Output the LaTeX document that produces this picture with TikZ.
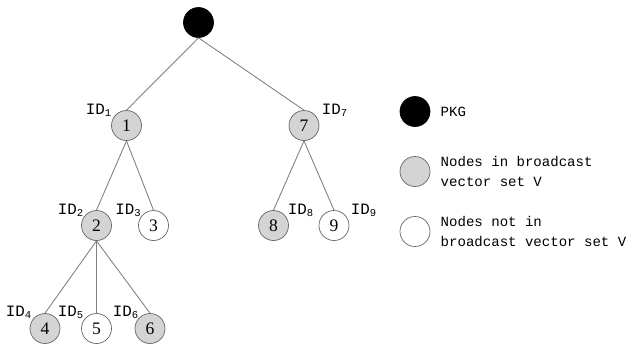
\documentclass[tikz,border=0pt]{standalone}
\usepackage{fontspec}
\setmainfont{Liberation Serif}
\setmonofont{Liberation Mono}
\usepackage{xcolor}
\usetikzlibrary{positioning}

\definecolor{branchgray}{gray}{0.5}
\definecolor{vecgray}{gray}{0.83}

\tikzset{
  treenode/.style={draw=black!60, circle, minimum size=0.6cm, inner sep=0pt, font=\fontsize{10}{10}\selectfont},
  invec/.style={treenode, fill=vecgray},
  outvec/.style={treenode, fill=white},
  pkgnode/.style={treenode, draw=black, fill=black},
  idlabel/.style={inner sep=0pt, font=\ttfamily\fontsize{9}{9}\selectfont},
  legendtext/.style={anchor=west, align=left, inner sep=0pt, font=\ttfamily\fontsize{8}{11.4}\selectfont},
  branch/.style={draw=branchgray, line width=0.5pt}
}

\begin{document}
\begin{tikzpicture}
            \useasboundingbox (0, 0) rectangle (12.58, -7.0);
            % Define the key generator and the tree nodes
            \node[pkgnode] (pkg) at (3.97, -0.45) {};
            \node[invec] (node-1) at (2.53, -2.51) {1};
            \node[invec] (node-7) at (6.08, -2.51) {7};
            \node[invec] (node-2) at (1.93, -4.51) {2};
            \node[outvec] (node-3) at (3.07, -4.51) {3};
            \node[invec] (node-8) at (5.47, -4.51) {8};
            \node[outvec] (node-9) at (6.68, -4.51) {9};
            \node[invec] (node-4) at (0.90, -6.57) {4};
            \node[outvec] (node-5) at (1.93, -6.57) {5};
            \node[invec] (node-6) at (3.00, -6.57) {6};
            % Tree branches
            \draw[branch] (pkg.south) -- (node-1.north);
            \draw[branch] (pkg.south) -- (node-7.north);
            \draw[branch] (node-1.south) -- (node-2.north);
            \draw[branch] (node-1.south) -- (node-3.north);
            \draw[branch] (node-7.south) -- (node-8.north);
            \draw[branch] (node-7.south) -- (node-9.north);
            \foreach \leaf in {4, 5, 6}
                \draw[branch] (node-2.south) -- (node-\leaf.north);
            % Identity labels
            \node[idlabel] (id-1) at (1.98, -2.20) {ID\textsubscript{1}};
            \node[idlabel] (id-7) at (6.70, -2.20) {ID\textsubscript{7}};
            \node[idlabel] (id-2) at (1.42, -4.20) {ID\textsubscript{2}};
            \node[idlabel] (id-3) at (2.57, -4.20) {ID\textsubscript{3}};
            \node[idlabel] (id-8) at (6.02, -4.20) {ID\textsubscript{8}};
            \node[idlabel] (id-9) at (7.28, -4.20) {ID\textsubscript{9}};
            \node[idlabel] (id-4) at (0.38, -6.25) {ID\textsubscript{4}};
            \node[idlabel] (id-5) at (1.42, -6.25) {ID\textsubscript{5}};
            \node[idlabel] (id-6) at (2.52, -6.25) {ID\textsubscript{6}};
            % Legend
            \node[pkgnode] (key-pkg) at (8.30, -2.23) {};
            \node[invec] (key-in) at (8.30, -3.43) {};
            \node[outvec] (key-out) at (8.30, -4.63) {};
            \node[legendtext, right=0.2cm of key-pkg] (text-pkg) {PKG};
            \node[legendtext, right=0.2cm of key-in] (text-in) {Nodes in broadcast\\vector set V};
            \node[legendtext, right=0.2cm of key-out] (text-out) {Nodes not in\\broadcast vector set V};
        \end{tikzpicture}
\end{document}
